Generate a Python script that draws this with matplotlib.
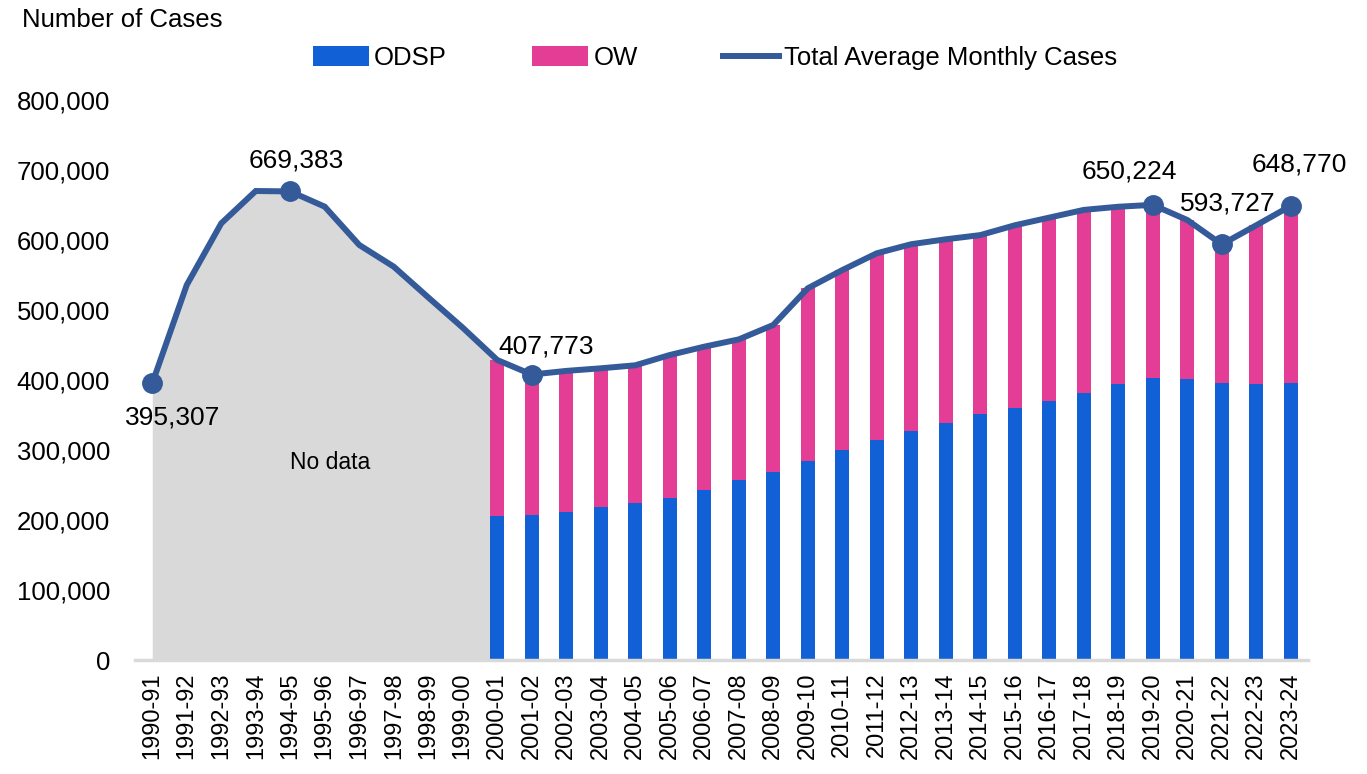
import numpy as np
import matplotlib
matplotlib.use('Agg')
from matplotlib import pyplot as plt

plt.rcParams['font.family'] = ['Liberation Sans', 'DejaVu Sans']

# Data
years = ['1990-91', '1991-92', '1992-93', '1993-94', '1994-95', '1995-96', '1996-97',
         '1997-98', '1998-99', '1999-00', '2000-01', '2001-02', '2002-03', '2003-04',
         '2004-05', '2005-06', '2006-07', '2007-08', '2008-09', '2009-10', '2010-11',
         '2011-12', '2012-13', '2013-14', '2014-15', '2015-16', '2016-17', '2017-18',
         '2018-19', '2019-20', '2020-21', '2021-22', '2022-23', '2023-24']
total = [395307, 535700, 623800, 670000, 669383, 647600, 592900, 561900, 518000, 474700,
         428600, 407773, 413000, 416700, 421000, 435700, 447600, 458000, 478600, 531000,
         557000, 581000, 594000, 601000, 607000, 621000, 632000, 643000, 647500, 650224,
         628600, 593727, 621000, 648770]
odsp = [205700, 207000, 211000, 218000, 224800, 231900, 242900, 257000, 269000, 284000,
        300000, 314000, 327600, 338600, 351000, 360000, 370000, 382000, 394800, 402900,
        401900, 396000, 394800, 396000]
first_bar = 10  # bars start at 2000-01
labelled = {0: (20, -34), 4: (6, 31), 11: (14, 28), 29: (-23, 33), 31: (6, 41), 33: (9, 41)}

x = np.arange(len(years))
bx = x[first_bar:]
ow = np.array(total[first_bar:]) - np.array(odsp)

fig = plt.figure(figsize=(13.67, 7.74), dpi=100)
ax = fig.add_axes([135 / 1367, 1 - 660 / 774, (1308 - 135) / 1367, 560 / 774])

# grey "no data" area
ax.fill_between(x[:first_bar + 1], 0, total[:first_bar + 1], color='#D9D9D9', lw=0, zorder=1)
ax.text(5.15, 282000, 'No data', fontsize=16.5, ha='center', va='center', zorder=4)

b1 = ax.bar(bx, odsp, width=0.4, color='#1160D6', label='ODSP', zorder=2)
b2 = ax.bar(bx, ow, bottom=odsp, width=0.4, color='#E33D95', label='OW', zorder=2)
ln, = ax.plot(x, total, color='#345A9A', lw=4.3, solid_joinstyle='miter',
              label='Total Average Monthly Cases', zorder=3)

mi = list(labelled.keys())
ax.plot(mi, [total[i] for i in mi], 'o', color='#345A9A', ms=14, zorder=4)
for i, (dx, dy) in labelled.items():
    ax.annotate(f'{total[i]:,}', (i, total[i]), xytext=(dx, dy), textcoords='offset pixels',
                ha='center', va='center', fontsize=19, zorder=5)

ax.set_xlim(-0.5, len(years) - 0.5)
ax.set_ylim(0, 800000)
ax.set_yticks(np.arange(0, 800001, 100000))
ax.yaxis.set_major_formatter(matplotlib.ticker.FuncFormatter(lambda v, p: f'{int(v):,}'))
ax.set_xticks(x)
ax.set_xticklabels(years, rotation=90, fontsize=17)
ax.tick_params(axis='y', length=0, labelsize=18.5, pad=18)
ax.tick_params(axis='x', length=0, pad=9)
for s in ['top', 'right', 'left']:
    ax.spines[s].set_visible(False)
ax.spines['bottom'].set_color('#D9D9D9')
ax.spines['bottom'].set_linewidth(2.5)

fig.text(22 / 1367, 1 - 20 / 774, 'Number of Cases', fontsize=18.5, ha='left', va='center')
fig.legend([b1, b2, ln], ['ODSP', 'OW', 'Total Average Monthly Cases'],
           loc='center', bbox_to_anchor=(715 / 1367, 1 - 58 / 774), ncol=3, frameon=False,
           fontsize=18.5, handlelength=2.2, handleheight=0.8, handletextpad=0.2,
           columnspacing=3.3)

fig.savefig('out.png', dpi=100)
